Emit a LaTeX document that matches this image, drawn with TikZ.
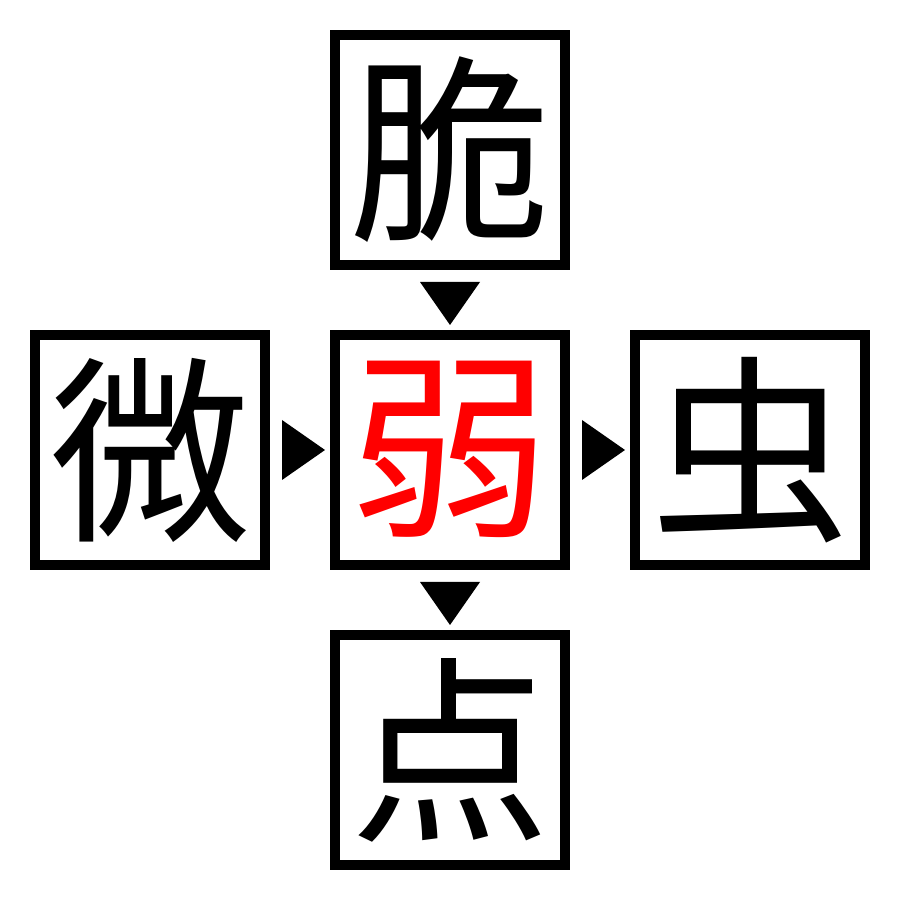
\documentclass[tikz,border=0pt]{standalone}
\usepackage{fontspec}
\usepackage{tikz}
\newfontfamily\kanjifont{Noto Sans CJK JP}

\begin{document}
\begin{tikzpicture}[x=1pt, y=1pt,
    kanjibox/.style={draw, line width=10pt, minimum size=230pt, inner sep=0pt,
        font=\kanjifont\fontsize{200pt}{200pt}\selectfont}]
    \useasboundingbox (0,0) rectangle (900,900);

    % Centre box
    \node[kanjibox, text=red] (mid) at (450,450) {弱};

    % Outer boxes
    \node[kanjibox] (top) at (450,750) {脆};
    \node[kanjibox] (left) at (150,450) {微};
    \node[kanjibox] (right) at (750,450) {虫};
    \node[kanjibox] (bottom) at (450,150) {点};

    % Pointers
    \fill ([xshift=-30pt,yshift=-12pt]top.south) -- ([xshift=30pt,yshift=-12pt]top.south) -- ([yshift=5pt]mid.north) -- cycle;
    \fill ([xshift=12pt,yshift=30pt]left.east) -- ([xshift=12pt,yshift=-30pt]left.east) -- ([xshift=-5pt]mid.west) -- cycle;
    \fill ([xshift=12pt,yshift=30pt]mid.east) -- ([xshift=12pt,yshift=-30pt]mid.east) -- ([xshift=-5pt]right.west) -- cycle;
    \fill ([xshift=-30pt,yshift=-12pt]mid.south) -- ([xshift=30pt,yshift=-12pt]mid.south) -- ([yshift=5pt]bottom.north) -- cycle;
\end{tikzpicture}
\end{document}
